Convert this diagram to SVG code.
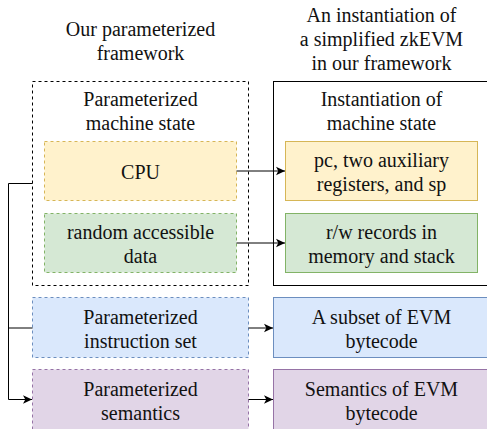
<svg xmlns="http://www.w3.org/2000/svg" width="487" height="429" viewBox="0 0 487 429" font-family="'Liberation Serif', 'DejaVu Serif', serif">
<defs>
<style>
text{font-size:20px;fill:#111;text-anchor:middle}
.dash{stroke-dasharray:3 3}
.edge{fill:none;stroke:#000;stroke-width:1}
.yl{fill:#fff2cc;stroke:#d6b656}
.gr{fill:#d5e8d4;stroke:#82b366}
.bl{fill:#dae8fc;stroke:#6c8ebf}
.pu{fill:#e1d5e7;stroke:#9673a6}
</style>
<marker id="arr" markerUnits="userSpaceOnUse" markerWidth="10" markerHeight="10" refX="9" refY="5" orient="auto">
<path d="M0,0.8 L9,5 L0,9.2 L2.3,5 Z" fill="#000"/>
</marker>
</defs>
<rect width="487" height="429" fill="#fff"/>
<g id="title-left">
<text x="140.5" y="36">Our parameterized</text>
<text x="140.5" y="60">framework</text>
</g>
<g id="title-right">
<text x="381.5" y="22">An instantiation of</text>
<text x="381.5" y="46">a simplified zkEVM</text>
<text x="381.5" y="70">in our framework</text>
</g>
<g id="param-state">
<rect x="32.5" y="81.5" width="216" height="204" fill="#fff" stroke="#000" class="dash"/>
<text x="140.5" y="106">Parameterized</text>
<text x="140.5" y="130">machine state</text>
</g>
<g id="inst-state">
<rect x="273.5" y="81.5" width="216" height="204" fill="#fff" stroke="#000"/>
<text x="381.5" y="106">Instantiation of</text>
<text x="381.5" y="130">machine state</text>
</g>
<g id="cpu">
<rect x="44.5" y="141.5" width="192" height="59" class="yl dash"/>
<text x="140.5" y="179">CPU</text>
</g>
<g id="cpu-inst">
<rect x="285.5" y="141.5" width="192" height="59" class="yl"/>
<text x="381.5" y="167">pc, two auxiliary</text>
<text x="381.5" y="191">registers, and sp</text>
</g>
<g id="data">
<rect x="44.5" y="213.5" width="192" height="59" class="gr dash"/>
<text x="140.5" y="239">random accessible</text>
<text x="140.5" y="263">data</text>
</g>
<g id="data-inst">
<rect x="285.5" y="213.5" width="192" height="59" class="gr"/>
<text x="381.5" y="239">r/w records in</text>
<text x="381.5" y="263">memory and stack</text>
</g>
<g id="instr">
<rect x="32.5" y="297.5" width="216" height="60" class="bl dash"/>
<text x="140.5" y="323.5">Parameterized</text>
<text x="140.5" y="347.5">instruction set</text>
</g>
<g id="instr-inst">
<rect x="273.5" y="297.5" width="216" height="60" class="bl"/>
<text x="381.5" y="323.5">A subset of EVM</text>
<text x="381.5" y="347.5">bytecode</text>
</g>
<g id="sem">
<rect x="32.5" y="369.5" width="216" height="60" class="pu dash"/>
<text x="140.5" y="395.5">Parameterized</text>
<text x="140.5" y="419.5">semantics</text>
</g>
<g id="sem-inst">
<rect x="273.5" y="369.5" width="216" height="60" class="pu"/>
<text x="381.5" y="395.5">Semantics of EVM</text>
<text x="381.5" y="419.5">bytecode</text>
</g>
<g id="connectors">
<path class="edge" d="M236.5,171 L285,171" marker-end="url(#arr)"/>
<path class="edge" d="M236.5,243 L285,243" marker-end="url(#arr)"/>
<path class="edge" d="M248.5,328 L273,328" marker-end="url(#arr)" stroke="#333"/>
<path class="edge" d="M248.5,399.5 L273,399.5" marker-end="url(#arr)"/>
<path class="edge" d="M32.5,183.5 L8.5,183.5 L8.5,399.5 L32,399.5" marker-end="url(#arr)"/>
<path class="edge" d="M32.5,328 L8.5,328" stroke="#333"/>
</g>
</svg>
